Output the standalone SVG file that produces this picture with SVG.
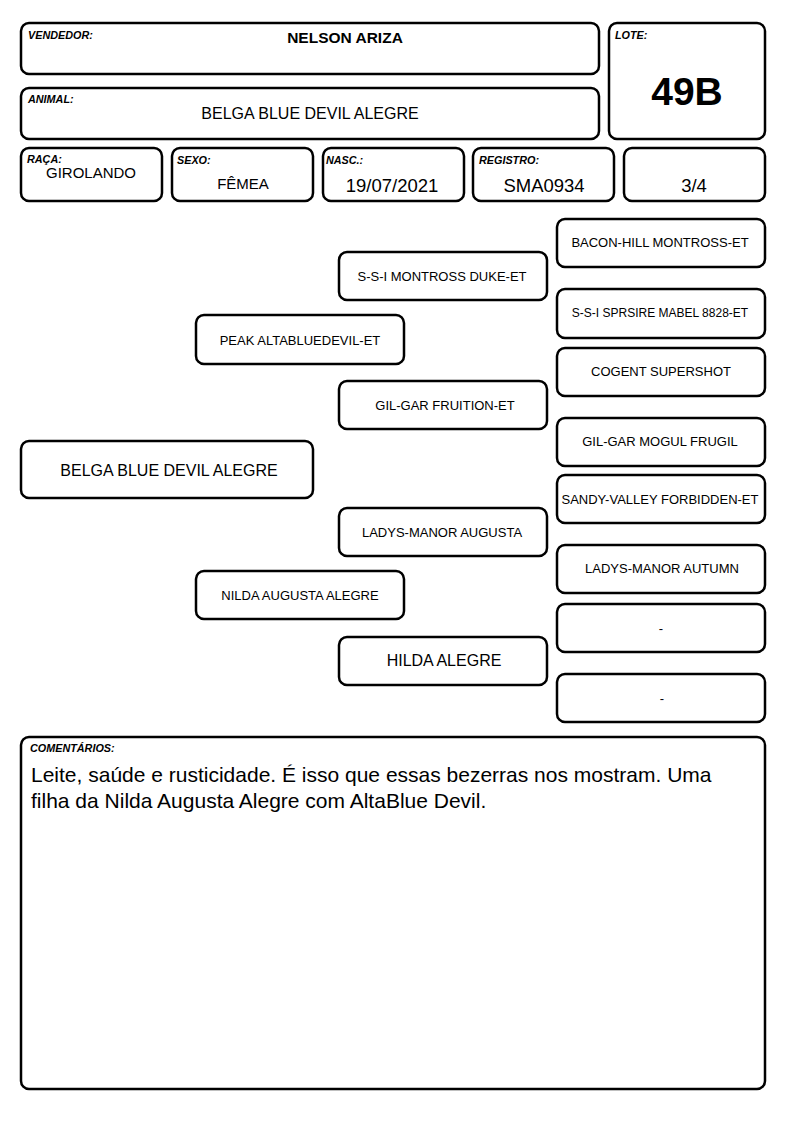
<svg xmlns="http://www.w3.org/2000/svg" width="794" height="1123" viewBox="0 0 794 1123">
<style>
.b{fill:#fff;stroke:#000;stroke-width:2.5}
.lbl{font-family:"Liberation Sans",Arial,sans-serif;font-size:10.8px;font-weight:bold;font-style:italic;fill:#000}
.t{font-family:"Liberation Sans",Arial,sans-serif;fill:#000;text-anchor:middle}
.p{font-size:13px}
.ps{font-size:12px}
.pl{font-size:16px}
.v{font-size:18.5px}
</style>
<rect width="794" height="1123" fill="#fff"/>
<g id="vendedor"><rect class="b" x="21" y="23" width="578" height="51" rx="8"/><text class="lbl" x="28" y="39">VENDEDOR:</text><text class="t" x="345" y="43" style="font-size:15.5px;font-weight:bold">NELSON ARIZA</text></g>
<g id="animal"><rect class="b" x="21" y="88" width="578" height="51" rx="8"/><text class="lbl" x="28" y="103">ANIMAL:</text><text class="t" x="310" y="119" style="font-size:16px">BELGA BLUE DEVIL ALEGRE</text></g>
<g id="lote"><rect class="b" x="609" y="23" width="156" height="116" rx="8"/><text class="lbl" x="615" y="39">LOTE:</text><text class="t" x="687" y="105" style="font-size:39px;font-weight:bold">49B</text></g>
<g id="raca"><rect class="b" x="21" y="148" width="141" height="53" rx="8"/><text class="lbl" x="27" y="163">RAÇA:</text><text class="t" x="91" y="178" style="font-size:15px">GIROLANDO</text></g>
<g id="sexo"><rect class="b" x="172" y="148" width="141" height="53" rx="8"/><text class="lbl" x="177" y="164">SEXO:</text><text class="t" x="243" y="189" style="font-size:15px">FÊMEA</text></g>
<g id="nasc"><rect class="b" x="323" y="148" width="141" height="53" rx="8"/><text class="lbl" x="326" y="164">NASC.:</text><text class="t v" x="392" y="192">19/07/2021</text></g>
<g id="registro"><rect class="b" x="473" y="148" width="141" height="53" rx="8"/><text class="lbl" x="479" y="164">REGISTRO:</text><text class="t v" x="544" y="192">SMA0934</text></g>
<g id="grau"><rect class="b" x="624" y="148" width="141" height="53" rx="8"/><text class="t v" x="694" y="192">3/4</text></g>
<g id="connectors"></g>
<g id="n-animal"><rect class="b" x="21" y="441" width="292" height="57" rx="8"/><text class="t pl" x="169" y="476">BELGA BLUE DEVIL ALEGRE</text></g>
<g id="n-pai"><rect class="b" x="196" y="315" width="208" height="49" rx="8"/><text class="t p" x="300" y="345">PEAK ALTABLUEDEVIL-ET</text></g>
<g id="n-mae"><rect class="b" x="196" y="571" width="208" height="48" rx="8"/><text class="t p" x="300" y="600">NILDA AUGUSTA ALEGRE</text></g>
<g id="n-avo1"><rect class="b" x="339" y="252" width="208" height="48" rx="8"/><text class="t p" x="442" y="281">S-S-I MONTROSS DUKE-ET</text></g>
<g id="n-avo2"><rect class="b" x="339" y="381" width="208" height="48" rx="8"/><text class="t p" x="445" y="410">GIL-GAR FRUITION-ET</text></g>
<g id="n-avo3"><rect class="b" x="339" y="508" width="208" height="48" rx="8"/><text class="t p" x="442" y="537">LADYS-MANOR AUGUSTA</text></g>
<g id="n-avo4"><rect class="b" x="339" y="637" width="208" height="48" rx="8"/><text class="t pl" x="444" y="666">HILDA ALEGRE</text></g>
<g id="n-b1"><rect class="b" x="557" y="219" width="208" height="48" rx="8"/><text class="t p" x="660" y="247">BACON-HILL MONTROSS-ET</text></g>
<g id="n-b2"><rect class="b" x="557" y="289" width="208" height="49" rx="8"/><text class="t ps" x="660" y="317">S-S-I SPRSIRE MABEL 8828-ET</text></g>
<g id="n-b3"><rect class="b" x="557" y="348" width="208" height="48" rx="8"/><text class="t p" x="661" y="376">COGENT SUPERSHOT</text></g>
<g id="n-b4"><rect class="b" x="557" y="418" width="208" height="48" rx="8"/><text class="t p" x="660" y="446">GIL-GAR MOGUL FRUGIL</text></g>
<g id="n-b5"><rect class="b" x="557" y="475" width="208" height="48" rx="8"/><text class="t p" x="660" y="504">SANDY-VALLEY FORBIDDEN-ET</text></g>
<g id="n-b6"><rect class="b" x="557" y="545" width="208" height="48" rx="8"/><text class="t p" x="662" y="573">LADYS-MANOR AUTUMN</text></g>
<g id="n-b7"><rect class="b" x="557" y="604" width="208" height="48" rx="8"/><text class="t p" x="661" y="633">-</text></g>
<g id="n-b8"><rect class="b" x="557" y="674" width="208" height="48" rx="8"/><text class="t p" x="662" y="703">-</text></g>
<g id="comentarios"><rect class="b" x="21" y="737" width="744" height="352" rx="8"/><text class="lbl" x="30" y="752">COMENTÁRIOS:</text>
<text style="font-family:'Liberation Sans',Arial,sans-serif;font-size:21px;fill:#000"><tspan x="31" y="782">Leite, saúde e rusticidade. É isso que essas bezerras nos mostram. Uma</tspan><tspan x="31" y="808">filha da Nilda Augusta Alegre com AltaBlue Devil.</tspan></text></g>
</svg>
